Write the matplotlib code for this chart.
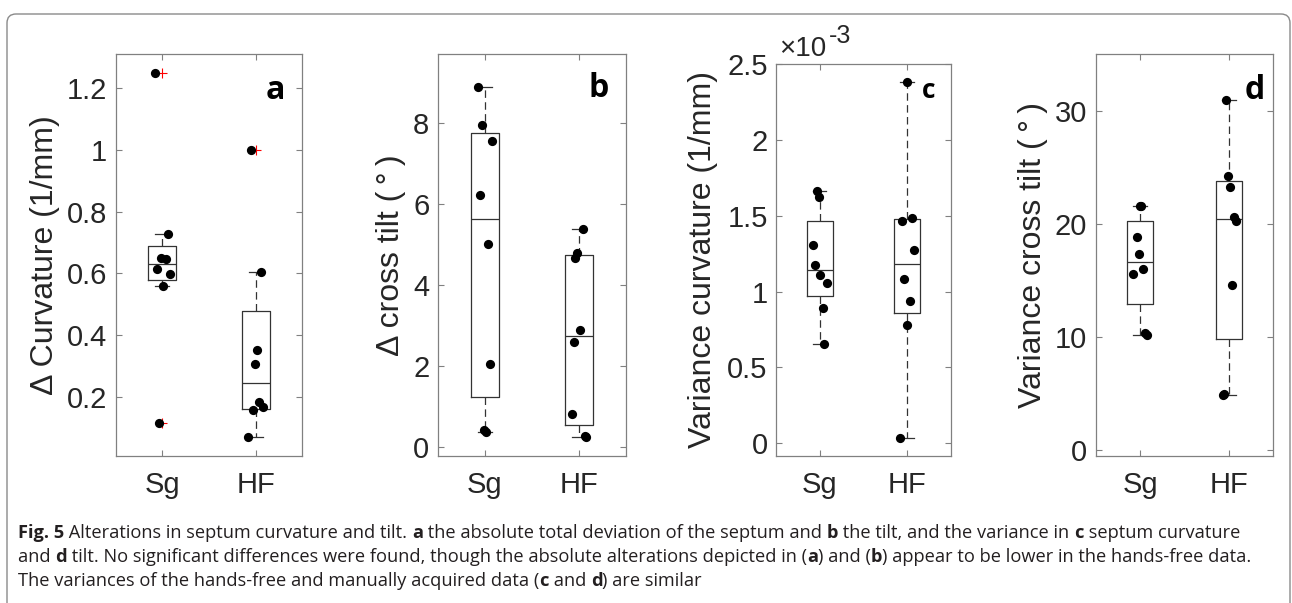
import matplotlib
matplotlib.use("Agg")
import matplotlib.pyplot as plt
import matplotlib.transforms as mtransforms
import numpy as np
from matplotlib.patches import FancyBboxPatch

groups = ["Sg", "HF"]

# a: delta curvature (1/mm)
curv_sg = [1.25, 0.727, 0.650, 0.648, 0.615, 0.597, 0.558, 0.114]
curv_hf = [1.00, 0.606, 0.351, 0.307, 0.182, 0.166, 0.157, 0.068]
# horizontal jitter of each dot
curv_sg_dx = [-0.075, 0.064, -0.014, 0.036, -0.054, 0.082, 0.011, -0.032]
curv_hf_dx = [-0.054, 0.061, 0.011, -0.011, 0.036, 0.082, -0.032, -0.082]

# b: delta cross tilt (deg)
tilt_sg = [8.89, 7.97, 7.57, 6.24, 5.01, 2.06, 0.41, 0.37]
tilt_hf = [5.39, 4.80, 4.68, 2.90, 2.60, 0.81, 0.27, 0.25]
tilt_sg_dx = [-0.074, -0.032, 0.081, -0.053, 0.039, 0.060, -0.011, 0.011]
tilt_hf_dx = [0.039, -0.018, -0.039, 0.014, -0.057, -0.074, 0.060, 0.078]

# c: variance curvature (x 1e-3 1/mm)
vcurv_sg = [1.667, 1.627, 1.306, 1.179, 1.108, 1.055, 0.893, 0.657]
vcurv_hf = [2.383, 1.467, 1.486, 1.278, 1.086, 0.937, 0.783, 0.037]
vcurv_sg_dx = [-0.034, -0.011, -0.080, -0.057, 0.008, 0.080, 0.034, 0.053]
vcurv_hf_dx = [-0.004, -0.053, 0.053, 0.080, -0.034, 0.034, 0.004, -0.080]

# d: variance cross tilt (deg)
vtilt_sg = [21.6, 21.6, 18.83, 17.30, 15.97, 15.53, 10.32, 10.20]
vtilt_hf = [30.92, 24.28, 23.28, 20.6, 20.3, 14.59, 5.0, 4.83]
vtilt_sg_dx = [0.008, 0.004, -0.037, -0.008, 0.037, -0.082, 0.060, 0.078]
vtilt_hf_dx = [-0.036, -0.014, 0.012, 0.057, 0.080, 0.039, -0.051, -0.066]

caption = [
    [("Fig. 5", 1), (" Alterations in septum curvature and tilt. ", 0), ("a", 1),
     (" the absolute total deviation of the septum and ", 0), ("b", 1),
     (" the tilt, and the variance in ", 0), ("c", 1), (" septum curvature", 0)],
    [("and ", 0), ("d", 1),
     (" tilt. No significant differences were found, though the absolute alterations depicted in (", 0),
     ("a", 1), (") and (", 0), ("b", 1), (") appear to be lower in the hands-free data.", 0)],
    [("The variances of the hands-free and manually acquired data (", 0), ("c", 1),
     (" and ", 0), ("d", 1), (") are similar", 0)],
]

plt.rcParams['font.family'] = ['Liberation Sans', 'DejaVu Sans']
TXT = '#262626'
W, H = 1292, 603


def box_stats(vals):
    # matlab style quartiles (hazen) and 1.5 IQR whiskers
    v = np.sort(np.asarray(vals, float))
    q1, med, q3 = np.percentile(v, [25, 50, 75], method="hazen")
    iqr = q3 - q1
    ins = v[(v >= q1 - 1.5 * iqr) & (v <= q3 + 1.5 * iqr)]
    return dict(med=med, q1=q1, q3=q3, whislo=ins.min(), whishi=ins.max(),
                fliers=v[(v < ins.min()) | (v > ins.max())])


def panel(px, sg, hf, sg_dx, hf_dx, ylim, yticks, ylabel, lab_xy, letter, let_xy, let_size):
    l, r, t, b = px
    ax = fig.add_axes([l / W, 1 - b / H, (r - l) / W, (b - t) / H])
    ax.bxp([box_stats(sg), box_stats(hf)], positions=[1, 2], widths=0.3, capwidths=0.15,
           boxprops=dict(color='#333333', lw=0.9),
           medianprops=dict(color='#333333', lw=0.9),
           whiskerprops=dict(color='#333333', lw=0.9, linestyle=(0, (6, 3.5))),
           capprops=dict(color='#333333', lw=0.9),
           flierprops=dict(marker='+', markeredgecolor='red', markersize=7, markeredgewidth=0.8))
    ax.scatter(1 + np.array(sg_dx), sg, s=44, color='black', zorder=5, lw=0)
    ax.scatter(2 + np.array(hf_dx), hf, s=44, color='black', zorder=5, lw=0)
    ax.set_xlim(0.5, 2.5)
    ax.set_ylim(*ylim)
    ax.set_xticks([1, 2])
    ax.set_xticklabels(groups)
    ax.set_yticks(yticks)
    ax.set_yticklabels([f"{v:g}" for v in yticks])
    ax.tick_params(direction='in', length=4, width=0.8, color='#808080', top=True, right=True,
                   labelsize=21, labelcolor=TXT)
    ax.tick_params(axis='x', pad=11)
    ax.tick_params(axis='y', pad=6)
    for sp in ax.spines.values():
        sp.set_color('#808080')
        sp.set_linewidth(0.9)
    ax.set_ylabel(ylabel, fontsize=23, color=TXT)
    ax.yaxis.set_label_coords(*lab_xy)
    ax.text(let_xy[0], let_xy[1], letter, transform=ax.transAxes, ha='center', va='center',
            fontsize=let_size, fontweight='bold', family='Open Sans', color='black')
    return ax


fig = plt.figure(figsize=(W / 100, H / 100), dpi=100)

deg = "(\u2009°\u2009)"
panel((115.7, 302.3, 54.3, 455.7), curv_sg, curv_hf, curv_sg_dx, curv_hf_dx,
      (0.009, 1.31), [0.2, 0.4, 0.6, 0.8, 1.0, 1.2], "Δ Curvature (1/mm)",
      (-0.30, 0.5), "a", (0.853, 0.911), 23)
panel((437.7, 626.0, 54.3, 455.7), tilt_sg, tilt_hf, tilt_sg_dx, tilt_hf_dx,
      (-0.22, 9.71), [0, 2, 4, 6, 8], "Δ cross tilt " + deg,
      (-0.17, 0.5), "b", (0.857, 0.916), 23)
axc = panel((776.0, 950.7, 64.3, 455.7), vcurv_sg, vcurv_hf, vcurv_sg_dx, vcurv_hf_dx,
            (-0.082, 2.5), [0, 0.5, 1, 1.5, 2, 2.5], "Variance curvature (1/mm)",
            (-0.33, 0.5), "c", (0.876, 0.934), 19)
axc.text(0.02, 1.02, "×10", transform=axc.transAxes, fontsize=20, color=TXT, va='baseline')
axc.text(0.305, 1.055, "-3", transform=axc.transAxes, fontsize=18, color=TXT, va='baseline')
panel((1095.7, 1273.3, 54.3, 455.7), vtilt_sg, vtilt_hf, vtilt_sg_dx, vtilt_hf_dx,
      (-0.5, 35), [0, 10, 20, 30], "Variance cross tilt " + deg,
      (-0.27, 0.5), "d", (0.894, 0.911), 23)

# frame round the whole figure, open at the bottom
fig.patches.append(FancyBboxPatch((7, -30), 1283, H - 7 + 30 - 7, boxstyle="round,pad=0,rounding_size=9",
                                  transform=mtransforms.IdentityTransform(), fill=False,
                                  edgecolor='#8a8a8a', lw=1.0))

# caption with bold pieces
rend = fig.canvas.get_renderer()
ident = mtransforms.IdentityTransform()
cap_size = 13.15


def width(s, bold):
    kw = dict(fontsize=cap_size, family='Open Sans', fontweight='bold' if bold else 'normal')
    t1 = fig.text(0, 0, "|" + s + "|", transform=ident, **kw)
    t2 = fig.text(0, 0, "||", transform=ident, **kw)
    w = t1.get_window_extent(rend).width - t2.get_window_extent(rend).width
    t1.remove()
    t2.remove()
    return w


for i, line in enumerate(caption):
    x = 18
    y = H - (538 + 24 * i)
    for s, bold in line:
        fig.text(x, y, s, transform=ident, fontsize=cap_size, family='Open Sans',
                 fontweight='bold' if bold else 'normal', color='#231f20', va='baseline')
        x += width(s, bold)

fig.savefig("out.png", dpi=100)
